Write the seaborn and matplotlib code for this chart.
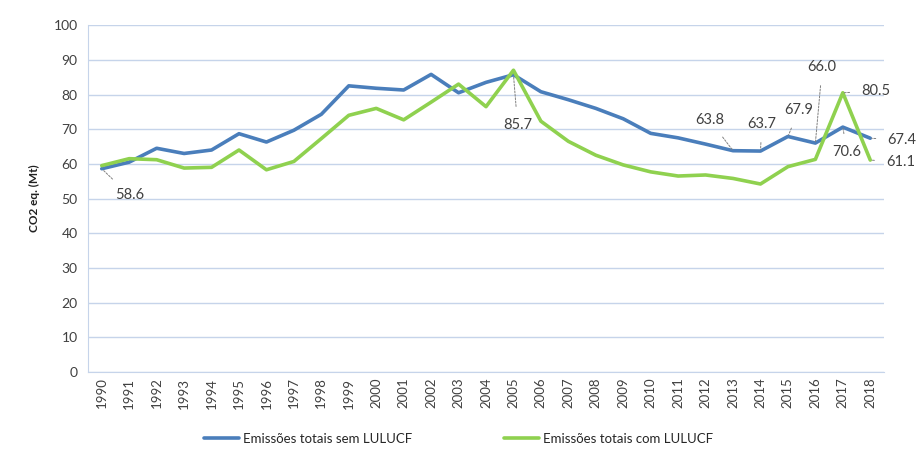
import pandas as pd
import numpy as np
import matplotlib
matplotlib.use("Agg")
import matplotlib.pyplot as plt
import seaborn as sns

# dados
anos = list(range(1990, 2019))
sem_lulucf = [58.6, 60.5, 64.5, 63.0, 64.0, 68.7, 66.3, 69.7, 74.3, 82.5,
              81.8, 81.3, 85.8, 80.5, 83.5, 85.7, 80.8, 78.5, 76.0, 73.0,
              68.8, 67.5, 65.7, 63.8, 63.7, 67.9, 66.0, 70.6, 67.4]
com_lulucf = [59.5, 61.5, 61.2, 58.8, 59.0, 64.0, 58.3, 60.7, 67.3, 74.0,
              76.0, 72.7, 77.8, 83.0, 76.5, 87.0, 72.3, 66.5, 62.5, 59.7,
              57.7, 56.5, 56.8, 55.8, 54.2, 59.2, 61.3, 80.5, 61.1]
serie_sem = "Emissões totais sem LULUCF"
serie_com = "Emissões totais com LULUCF"
y_ticks = list(range(0, 101, 10))

# rótulos: (ano, valor, x do texto, y do texto)
rotulos = [
    (1990, 58.6, 1991.0, 51.0),
    (2005, 85.7, 2005.15, 71.2),
    (2013, 63.8, 2012.15, 72.6),
    (2014, 63.7, 2014.05, 71.5),
    (2015, 67.9, 2015.4, 75.5),
    (2016, 66.0, 2016.25, 87.9),
    (2017, 80.5, 2018.2, 81.0),
    (2017, 70.6, 2017.15, 63.4),
    (2018, 67.4, 2019.15, 66.9),
    (2018, 61.1, 2019.1, 60.5),
]

df = pd.DataFrame({
    "ano": anos * 2,
    "valor": sem_lulucf + com_lulucf,
    "serie": [serie_sem] * len(anos) + [serie_com] * len(anos),
})

sns.set_style("white")
plt.rcParams["font.family"] = ["Lato", "DejaVu Sans"]

fig = plt.figure(figsize=(9.17, 4.57), dpi=100)
ax = fig.add_axes([0.096, 0.186, 0.868, 0.759])

grid_cor = "#c6d4ea"
for v in y_ticks:
    ax.axhline(v, color=grid_cor, lw=1, zorder=0)

sns.lineplot(data=df, x="ano", y="valor", hue="serie",
             palette={serie_sem: "#4a7ebb", serie_com: "#8fd14f"},
             lw=2.6, ax=ax, legend=True, zorder=3)

ax.set_xlim(1989.55, 2018.5)
ax.set_ylim(0, 100)
ax.set_yticks(y_ticks)
ax.set_xticks(anos)
ax.set_xticklabels([str(a) for a in anos], rotation=90, fontsize=9.5, color="#404040")
ax.set_xticks(np.arange(1989.5, 2019, 1), minor=True)
ax.tick_params(axis="x", which="major", length=0, pad=4)
ax.tick_params(axis="x", which="minor", length=5, color=grid_cor, direction="out")
ax.tick_params(axis="y", length=4, color=grid_cor, labelsize=10, labelcolor="#404040")
for s in ["top", "right"]:
    ax.spines[s].set_visible(False)
ax.spines["left"].set_color(grid_cor)
ax.spines["bottom"].set_color(grid_cor)
ax.set_xlabel("")
ax.set_ylabel("CO2 eq. (Mt)", fontsize=8.5, fontweight="bold", color="#202020", labelpad=10)

for ano, valor, tx, ty in rotulos:
    ax.annotate(f"{valor:.1f}", xy=(ano, valor), xytext=(tx, ty),
                ha="center", va="center", fontsize=10.5, color="#404040",
                annotation_clip=False, zorder=5,
                arrowprops=dict(arrowstyle="-", color="#808080", lw=0.7,
                                linestyle=(0, (2, 1.5)), shrinkA=6, shrinkB=1))

handles, labels = ax.get_legend_handles_labels()
ax.get_legend().remove()
fig.legend(handles, labels, loc="center", bbox_to_anchor=(0.5, 0.04), ncol=2,
           frameon=False, fontsize=9.5, handlelength=2.6, handletextpad=0.3,
           columnspacing=7)

fig.savefig("out.png", dpi=100)
